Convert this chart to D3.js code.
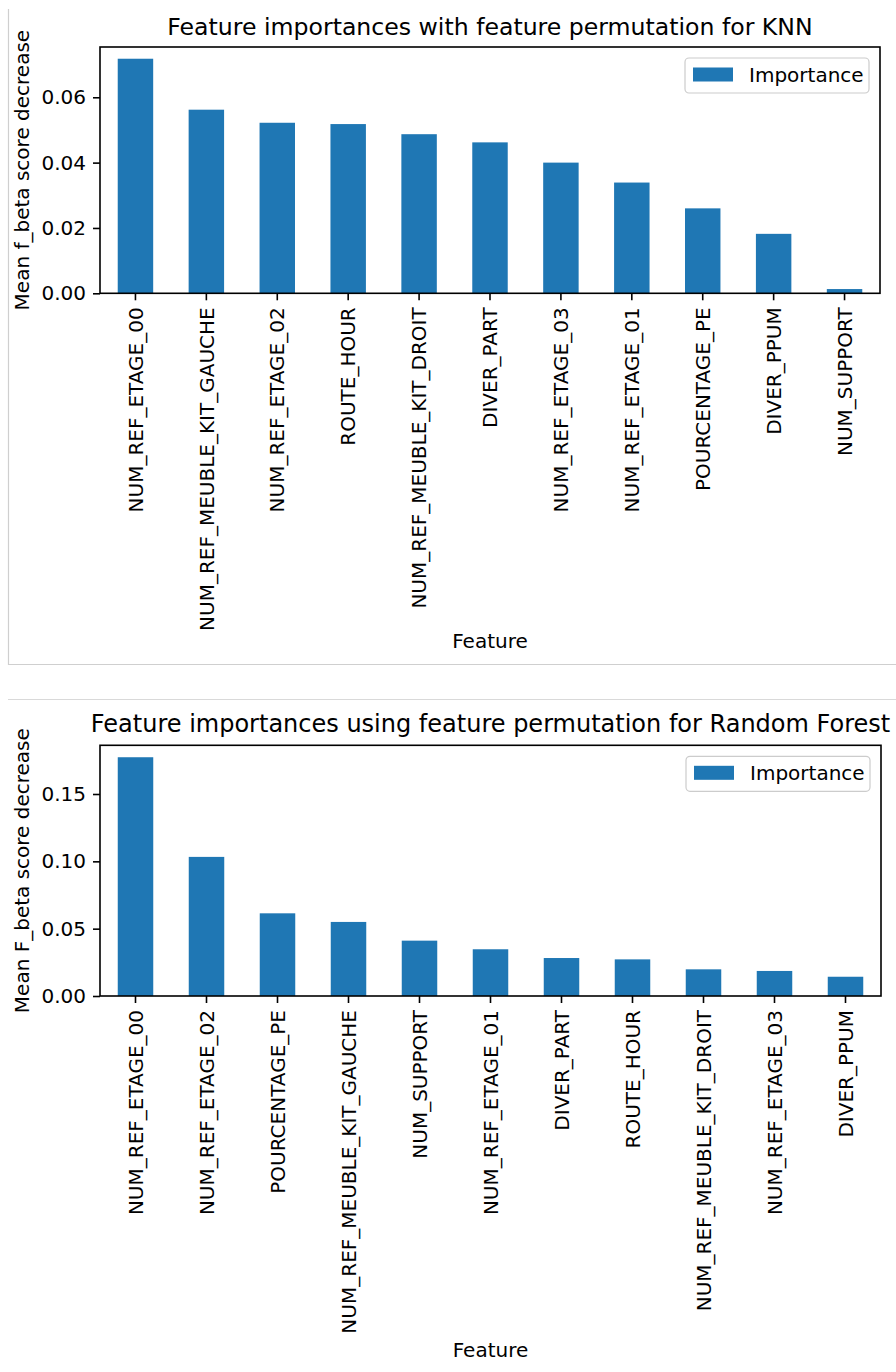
<!DOCTYPE html>
<html>
<head>
<meta charset="utf-8">
<script src="https://cdn.jsdelivr.net/npm/d3@7"></script>
<style>
  html, body { margin: 0; padding: 0; background: #fff; }
  svg { display: block; }
  text { font-family: "DejaVu Sans", sans-serif; fill: #000; }
</style>
</head>
<body>
<svg id="fig" width="896" height="1372"></svg>
<script>
// Permutation importances, KNN model
const knnFeatures = [
  "NUM_REF_ETAGE_00", "NUM_REF_MEUBLE_KIT_GAUCHE", "NUM_REF_ETAGE_02", "ROUTE_HOUR",
  "NUM_REF_MEUBLE_KIT_DROIT", "DIVER_PART", "NUM_REF_ETAGE_03", "NUM_REF_ETAGE_01",
  "POURCENTAGE_PE", "DIVER_PPUM", "NUM_SUPPORT"
];
const knnImportance = [0.0718, 0.0562, 0.0522, 0.0518, 0.0487, 0.0462, 0.0400, 0.0339, 0.0260, 0.0182, 0.0013];
const knnTicks = [0, 0.02, 0.04, 0.06];

// Permutation importances, Random Forest model
const rfFeatures = [
  "NUM_REF_ETAGE_00", "NUM_REF_ETAGE_02", "POURCENTAGE_PE", "NUM_REF_MEUBLE_KIT_GAUCHE",
  "NUM_SUPPORT", "NUM_REF_ETAGE_01", "DIVER_PART", "ROUTE_HOUR",
  "NUM_REF_MEUBLE_KIT_DROIT", "NUM_REF_ETAGE_03", "DIVER_PPUM"
];
const rfImportance = [0.1773, 0.1033, 0.0614, 0.0550, 0.0411, 0.0347, 0.0282, 0.0272, 0.0198, 0.0186, 0.0143];
const rfTicks = [0, 0.05, 0.10, 0.15];

const BAR = "#1f77b4";
const svg = d3.select("#fig");

// output-cell frame lines
svg.append("path")
  .attr("d", "M8.5,9 V664.5 H896")
  .attr("fill", "none").attr("stroke", "#cfcfcf").attr("stroke-width", 1.2);
svg.append("line")
  .attr("x1", 8).attr("x2", 896).attr("y1", 699.5).attr("y2", 699.5)
  .attr("stroke", "#d9d9d9").attr("stroke-width", 1.2);

function drawPanel(cfg) {
  const { left, right, top, bottom, features, values, ticks, title, titleY, titleSize, ylabel, xlabelY } = cfg;
  const g = svg.append("g");

  const x = d3.scaleBand().domain(features).range([left, right])
    .paddingInner(0.5).paddingOuter(0.25);
  const y = d3.scaleLinear().domain([0, d3.max(values) * 1.05]).range([bottom, top]);

  // bars
  g.selectAll("rect.bar").data(features).join("rect")
    .attr("class", "bar")
    .attr("x", d => x(d))
    .attr("width", x.bandwidth())
    .attr("y", (d, i) => y(values[i]))
    .attr("height", (d, i) => bottom - y(values[i]))
    .attr("fill", BAR);

  // y axis
  const yAxis = d3.axisLeft(y).tickValues(ticks).tickFormat(d3.format(".2f"))
    .tickSize(7).tickPadding(7);
  const ya = g.append("g").attr("transform", `translate(${left},0)`).call(yAxis);
  ya.select(".domain").remove();
  ya.selectAll(".tick line").attr("stroke", "#000").attr("stroke-width", 1.6);
  ya.selectAll(".tick text").attr("font-size", 20).attr("font-family", "DejaVu Sans").attr("fill", "#000");

  // x axis with rotated labels
  const xAxis = d3.axisBottom(x).tickSize(7).tickPadding(0);
  const xa = g.append("g").attr("transform", `translate(0,${bottom})`).call(xAxis);
  xa.select(".domain").remove();
  xa.selectAll(".tick line").attr("stroke", "#000").attr("stroke-width", 1.6);
  xa.selectAll(".tick text")
    .attr("font-size", 20).attr("font-family", "DejaVu Sans").attr("fill", "#000")
    .attr("text-anchor", "end")
    .attr("transform", "rotate(-90)")
    .attr("x", -14).attr("y", 0).attr("dy", "0.36em");

  // frame
  g.append("rect")
    .attr("x", left).attr("y", top)
    .attr("width", right - left).attr("height", bottom - top)
    .attr("fill", "none").attr("stroke", "#000").attr("stroke-width", 1.6);

  // title
  g.append("text").attr("x", (left + right) / 2).attr("y", titleY)
    .attr("text-anchor", "middle").attr("font-size", titleSize).text(title);

  // axis labels
  g.append("text")
    .attr("transform", `translate(29,${(top + bottom) / 2}) rotate(-90)`)
    .attr("text-anchor", "middle").attr("font-size", 20).text(ylabel);
  g.append("text").attr("x", (left + right) / 2).attr("y", xlabelY)
    .attr("text-anchor", "middle").attr("font-size", 20).text("Feature");

  // legend
  const lx = right - 195, ly = top + 11;
  const lg = g.append("g");
  lg.append("rect").attr("x", lx).attr("y", ly).attr("width", 184).attr("height", 35)
    .attr("rx", 4).attr("fill", "#fff").attr("fill-opacity", 0.8)
    .attr("stroke", "#cccccc").attr("stroke-width", 1.2);
  lg.append("rect").attr("x", lx + 8).attr("y", ly + 9.5).attr("width", 40).attr("height", 14)
    .attr("fill", BAR);
  lg.append("text").attr("x", lx + 64).attr("y", ly + 24)
    .attr("font-size", 20).text("Importance");
}

drawPanel({
  left: 100, right: 880, top: 47, bottom: 293.3,
  features: knnFeatures, values: knnImportance, ticks: knnTicks,
  title: "Feature importances with feature permutation for KNN", titleY: 35, titleSize: 23.6,
  ylabel: "Mean f_beta score decrease", xlabelY: 648
});

drawPanel({
  left: 100, right: 881, top: 745.3, bottom: 996,
  features: rfFeatures, values: rfImportance, ticks: rfTicks,
  title: "Feature importances using feature permutation for Random Forest", titleY: 731.5, titleSize: 24,
  ylabel: "Mean F_beta score decrease", xlabelY: 1357
});
</script>
</body>
</html>
